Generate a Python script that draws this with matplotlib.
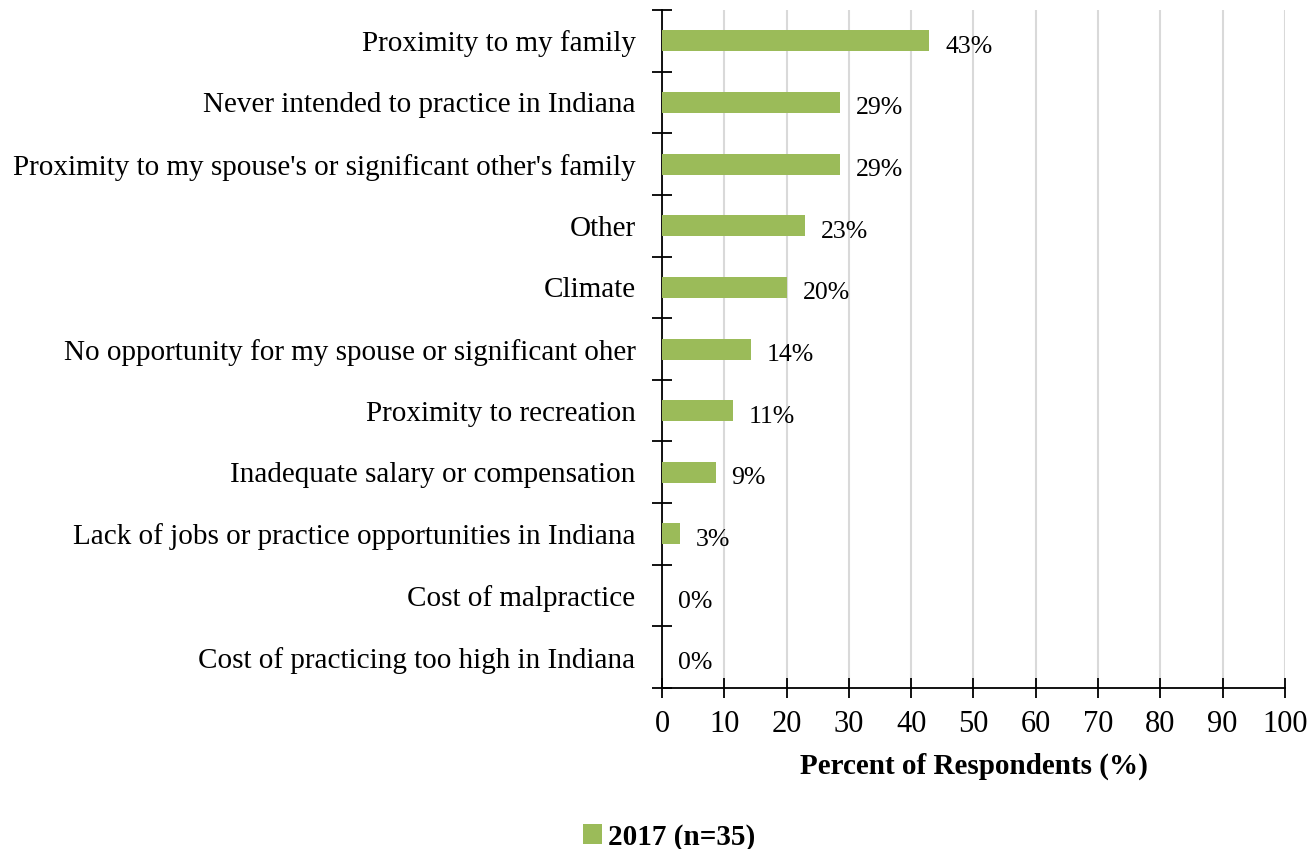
import matplotlib
matplotlib.use("Agg")
import matplotlib.pyplot as plt
from matplotlib.ticker import FixedLocator, NullFormatter
import numpy as np

plt.rcParams['font.family'] = ['Liberation Serif', 'DejaVu Serif']

categories = [
    "Proximity to my family",
    "Never intended to practice in Indiana",
    "Proximity to my spouse's or significant other's family",
    "Other",
    "Climate",
    "No opportunity for my spouse or significant oher",
    "Proximity to recreation",
    "Inadequate salary or compensation",
    "Lack of jobs or practice opportunities in Indiana",
    "Cost of malpractice",
    "Cost of practicing too high in Indiana",
]
values_2017 = [42.9, 28.6, 28.6, 22.9, 20.0, 14.3, 11.4, 8.6, 2.9, 0.0, 0.0]
series_label = "2017 (n=35)"
xticks = list(range(0, 101, 10))

bar_color = "#9BBB59"
grid_color = "#D9D9D9"

fig = plt.figure(figsize=(13.1, 8.49), dpi=100)
ax = fig.add_axes([0.5053, 0.1896, 0.4756, 0.7986])

n = len(categories)
ypos = np.arange(n)
bars = ax.barh(ypos, values_2017, height=0.34, color=bar_color,
               label=series_label, zorder=3)
ax.set_ylim(n - 0.5, -0.5)
ax.set_xlim(0, 100)

# value labels just to the right of each bar end
for y, v in zip(ypos, values_2017):
    ax.annotate(f"{v:.0f}%", xy=(v, y), xytext=(11.5, -2.5),
                textcoords="offset points", va="center_baseline", ha="left",
                fontsize=18.5)

# category labels sit at bar centres; ticks mark boundaries between categories
ax.set_yticks(ypos)
ax.set_yticklabels(categories, fontsize=21)
ax.tick_params(axis="y", which="major", length=0, pad=19)
ax.yaxis.set_minor_locator(FixedLocator(np.arange(-0.5, n, 1.0)))
ax.yaxis.set_minor_formatter(NullFormatter())
ax.tick_params(axis="y", which="minor", direction="inout", length=14, width=1.3)

ax.set_xticks(xticks)
ax.set_xticklabels([str(t) for t in xticks], fontsize=22)
ax.tick_params(axis="x", direction="inout", length=14, width=1.3, pad=9)
ax.xaxis.grid(True, color=grid_color, linewidth=1.5, zorder=0)
ax.set_axisbelow(True)

for side in ("top", "right"):
    ax.spines[side].set_visible(False)
for side in ("left", "bottom"):
    ax.spines[side].set_linewidth(1.3)

ax.set_xlabel("Percent of Respondents (%)", fontsize=21, fontweight="bold",
              labelpad=10)

fig.legend(handles=[bars], labels=[series_label], loc="center",
           bbox_to_anchor=(0.511, 0.014), frameon=False,
           prop={"size": 21, "weight": "bold"},
           handlelength=0.65, handleheight=0.65, handletextpad=0.2)

fig.savefig("out.png", dpi=100)
